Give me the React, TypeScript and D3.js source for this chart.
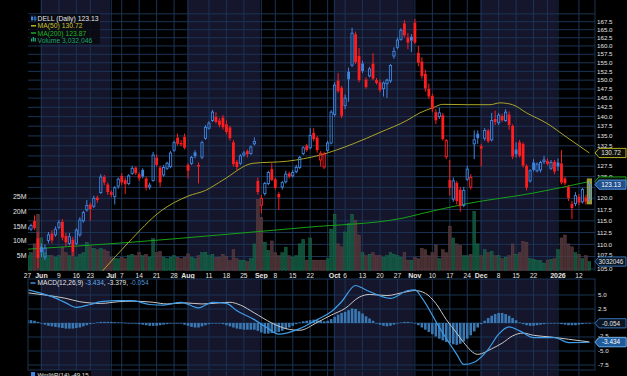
import React from 'react';
import * as d3 from 'd3';

const W = 627;
const H = 376;

// Daily candles [open, high, low, close], May 27 2025 .. Jan 15 2026
const ohlc: [number, number, number, number][] = [
  [113.2, 114.2, 112.6, 113.6], [113.2, 114.4, 112.8, 114.0], [115.0, 116.2, 113.0, 113.4], [111.3, 112.6, 105.2, 107.2],
  [109.5, 110.2, 107.4, 108.4], [107.4, 110.0, 106.8, 109.2], [110.8, 112.6, 110.2, 112.0], [112.3, 113.0, 110.2, 110.8],
  [112.0, 113.8, 111.6, 113.2], [113.6, 115.2, 113.2, 114.6], [114.8, 115.4, 110.8, 111.4], [111.8, 112.4, 109.6, 110.4],
  [110.2, 112.4, 109.8, 111.6], [111.0, 111.6, 107.6, 108.4], [110.2, 113.4, 109.8, 113.0], [112.0, 115.8, 111.6, 115.2],
  [115.0, 117.2, 114.6, 116.8], [117.4, 119.6, 117.0, 118.4], [118.6, 119.0, 115.0, 117.6], [118.2, 120.6, 117.8, 120.0],
  [120.2, 120.6, 119.0, 119.6], [121.3, 125.6, 121.0, 124.9], [125.0, 125.4, 123.0, 123.6], [123.2, 123.6, 120.8, 121.4],
  [121.4, 121.8, 120.2, 120.8], [120.4, 122.8, 118.6, 122.4], [122.8, 124.8, 122.2, 124.4], [125.2, 125.8, 123.0, 123.6],
  [124.2, 124.8, 121.0, 123.2], [123.4, 125.6, 123.0, 125.2], [125.8, 127.6, 125.4, 127.0], [127.2, 127.4, 125.4, 125.8],
  [125.6, 126.0, 124.0, 124.6], [126.6, 127.0, 124.6, 125.0], [124.6, 125.0, 121.8, 122.4], [122.6, 123.6, 122.0, 123.0],
  [124.1, 131.0, 123.8, 130.2], [129.6, 130.4, 127.4, 127.8], [127.2, 127.6, 122.6, 123.6], [125.4, 127.8, 125.0, 127.2],
  [127.0, 128.6, 126.6, 128.2], [127.4, 131.2, 127.0, 130.7], [131.4, 133.8, 131.0, 133.3], [134.6, 135.6, 132.6, 133.0],
  [133.2, 134.0, 132.4, 132.8], [134.8, 135.6, 131.6, 132.0], [127.8, 128.2, 124.6, 126.4], [128.2, 130.0, 127.8, 129.6],
  [130.9, 131.4, 129.4, 129.9], [127.8, 128.4, 123.4, 127.4], [129.7, 133.8, 129.2, 133.3], [134.4, 137.8, 134.0, 137.2],
  [137.0, 138.8, 136.6, 138.3], [139.0, 141.8, 138.6, 141.2], [140.0, 141.2, 138.2, 138.6], [139.0, 139.6, 137.2, 137.8],
  [139.8, 140.4, 136.6, 137.2], [138.0, 139.0, 135.4, 136.0], [137.2, 137.6, 133.8, 134.4], [133.4, 134.0, 127.4, 128.0],
  [128.6, 129.0, 126.6, 127.3], [128.2, 130.4, 127.8, 130.0], [130.2, 131.2, 129.8, 130.7], [131.2, 131.6, 129.6, 130.4],
  [130.6, 132.6, 130.2, 132.2], [133.0, 134.6, 132.6, 133.6], [124.0, 124.8, 120.8, 121.4], [118.4, 120.8, 116.6, 120.0],
  [121.1, 123.8, 120.6, 123.4], [123.4, 126.4, 123.0, 126.0], [126.8, 128.2, 124.0, 124.2], [124.4, 124.8, 122.0, 122.4],
  [121.0, 121.4, 117.4, 120.2], [122.6, 124.0, 122.0, 123.6], [123.8, 126.4, 123.4, 125.6], [125.8, 126.2, 124.6, 125.0],
  [125.2, 126.6, 124.8, 126.0], [126.2, 127.8, 125.8, 127.2], [127.2, 130.0, 126.8, 129.6], [130.6, 132.4, 130.2, 132.0],
  [132.6, 133.0, 131.0, 131.4], [132.0, 137.0, 131.6, 135.1], [135.8, 137.0, 133.6, 134.2], [134.6, 135.0, 130.8, 131.4],
  [129.0, 131.2, 127.4, 130.6], [127.3, 131.0, 126.8, 130.4], [131.4, 133.8, 131.0, 133.2], [133.2, 141.8, 132.8, 141.2],
  [140.6, 149.4, 140.0, 148.6], [149.9, 152.0, 146.4, 146.9], [147.9, 148.4, 139.6, 140.2], [143.0, 146.0, 142.0, 145.0],
  [152.4, 153.6, 144.0, 150.2], [154.3, 165.6, 153.8, 163.9], [163.6, 164.4, 154.6, 155.2], [157.0, 159.4, 149.4, 150.0],
  [154.8, 155.6, 152.0, 152.6], [150.2, 150.8, 147.6, 148.0], [151.2, 153.8, 150.8, 153.2], [154.8, 157.8, 150.0, 150.4],
  [150.0, 150.6, 148.8, 149.2], [149.4, 150.2, 146.6, 147.2], [147.6, 149.6, 145.4, 149.2], [149.0, 150.4, 145.0, 150.0],
  [149.8, 154.6, 149.2, 154.2], [157.0, 159.6, 156.2, 158.4], [159.6, 162.6, 159.0, 161.8], [162.0, 165.4, 161.6, 164.8],
  [167.0, 168.0, 162.6, 163.2], [162.6, 164.0, 159.0, 161.0], [162.8, 163.6, 158.2, 161.6], [167.2, 168.4, 160.6, 161.0],
  [158.0, 160.0, 154.0, 155.0], [155.4, 156.6, 150.4, 151.2], [151.8, 153.0, 146.8, 147.6], [147.6, 149.0, 144.8, 145.4],
  [145.6, 146.2, 141.2, 142.0], [141.2, 142.0, 138.0, 139.0], [140.0, 142.4, 139.4, 141.0], [140.4, 141.0, 133.8, 134.2],
  [129.8, 134.2, 129.2, 133.8], [124.2, 129.0, 120.6, 122.4], [119.8, 124.8, 119.2, 124.0], [123.6, 124.0, 118.6, 119.4],
  [122.0, 122.6, 117.0, 118.2], [118.4, 122.6, 118.0, 121.8], [124.4, 127.6, 124.0, 126.8], [122.6, 125.6, 122.0, 124.8],
  [133.0, 136.4, 129.2, 134.0], [135.6, 136.4, 133.0, 134.4], [132.4, 133.0, 127.4, 131.8], [134.4, 137.0, 133.8, 136.4],
  [136.4, 136.8, 133.2, 133.6], [134.0, 141.0, 133.6, 139.0], [139.4, 141.6, 137.8, 138.6], [138.4, 141.0, 137.8, 140.4],
  [140.2, 140.8, 138.6, 139.0], [139.0, 142.0, 138.6, 141.2], [140.6, 141.4, 136.6, 137.8], [137.6, 138.0, 129.2, 129.8],
  [131.6, 133.4, 129.6, 130.4], [133.4, 134.0, 129.6, 130.0], [133.0, 133.4, 127.2, 127.6], [127.6, 128.0, 121.8, 122.4],
  [124.0, 126.8, 123.6, 126.4], [128.4, 129.2, 126.2, 126.6], [126.4, 128.4, 126.0, 128.0], [126.6, 128.8, 126.0, 128.4],
  [128.6, 130.0, 128.0, 129.0], [128.8, 129.4, 127.6, 128.0], [127.0, 129.0, 126.6, 128.4], [128.6, 129.0, 125.6, 126.2],
  [128.4, 129.4, 126.4, 127.4], [128.2, 131.4, 123.2, 123.6], [124.6, 125.0, 123.0, 123.4], [122.6, 123.0, 119.4, 120.0],
  [118.8, 119.4, 115.4, 117.8], [118.8, 121.4, 118.2, 120.6], [120.4, 121.0, 118.4, 119.0], [119.2, 122.4, 118.8, 122.0],
  [120.2, 120.8, 118.6, 119.2], [119.8, 124.0, 119.2, 123.13],
];

// Volume in millions
const volumes: number[] = [
  5, 6, 9, 19, 11, 6, 5, 5, 4.5, 5,
  7.9, 6, 5, 6, 4.5, 5.5, 6, 9.5, 8, 7.5,
  7, 7.5, 7, 6.5, 4.5, 4, 4, 4.5, 4, 5,
  5.5, 5, 6, 5, 5.5, 4.5, 10.8, 6, 6.5, 4.5,
  4, 4.5, 5, 4.5, 4, 4.5, 5.6, 4.5, 4, 5,
  6, 6.2, 5, 5.5, 4.5, 4.5, 5.5, 4.8, 3.4, 7,
  4, 3.5, 3.5, 3, 4, 9, 24, 18, 9.6, 6.8,
  10, 6, 5, 6, 7.9, 5, 4.5, 5, 9, 10.5,
  3.5, 11, 3.5, 3.5, 3.5, 3.5, 4, 14, 19, 9,
  8, 13, 16, 19, 17, 12, 6, 5, 5.5, 6,
  5, 5, 4.5, 5, 6, 5.5, 5, 4.5, 6, 3.5,
  3.4, 4.5, 4, 7.5, 7, 5, 6, 8.6, 4, 7,
  6, 15, 11, 9, 8.5, 5, 5, 5.5, 20, 9,
  5, 7, 6, 6.5, 5, 5, 4, 4.5, 5, 9,
  5.5, 6, 9.8, 9.5, 4, 3.8, 3.5, 3.4, 2.5, 3.5,
  3.8, 4, 7, 11, 12, 9, 8, 6, 5.5, 4,
  5, 3.032046,
];

// Moving averages read at sample days [dayIndex, value]
const ma50: [number, number][] = [
  [0, 90], [10, 96], [21.6, 104.7], [28.8, 110.3], [38.3, 117.2], [46, 120.5], [51, 121.8], [56, 124.2],
  [64.6, 128.2], [74.4, 128.7], [83.8, 130.2], [93.3, 133], [101, 135.9], [108.7, 139], [112.4, 141],
  [116.2, 142.4], [119, 143.3], [126, 143.2], [132.5, 143.2], [135.4, 143.7], [139, 143.2], [143, 141],
  [148.9, 138.2], [154.6, 134.6], [161, 130.72],
];
const ma200: [number, number][] = [
  [0, 109.0], [29, 110.4], [57, 112.1], [80, 113.6], [107, 115.5], [113, 116.6], [126, 118.8], [145, 121.2], [161, 123.87],
];

// MACD(12,26,9) read at sample days
const macdLine: [number, number][] = [
  [0, 5.95], [4, 5.3], [7, 4.7], [11, 3.6], [14, 2.8], [18, 3.3], [21, 3.8], [26, 4.0], [30, 4.0], [35, 3.3],
  [39, 3.2], [44, 3.7], [49, 2.7], [53, 3.7], [57, 3.5], [60, 2.2], [65, 0.6], [68, -0.6], [72, -2.0], [78, -1.0],
  [83, 0.6], [87, 2.0], [90, 3.8], [94, 6.7], [97, 5.9], [104, 4.4], [109, 5.8], [111, 5.9], [113, 4.5], [118, -0.8],
  [123, -5.6], [125, -7.4], [128, -7.0], [132, -4.7], [135, -2.0], [138, -0.7], [141, -1.4], [145, -2.6], [151, -2.6],
  [155, -3.5], [161, -3.434],
];
const signalLine: [number, number][] = [
  [0, 5.4], [5, 5.0], [11, 4.4], [15, 3.8], [21, 3.5], [26, 3.8], [30, 3.9], [36, 3.7], [40, 3.4], [45, 3.6],
  [50, 3.4], [55, 3.6], [58, 3.7], [61, 3.2], [65, 1.8], [70, 0.0], [74, -1.0], [78, -1.3], [83, 0.1], [87, 1.4],
  [91, 2.6], [95, 4.6], [98, 5.1], [103, 4.9], [108, 5.5], [111, 5.8], [114, 5.3], [117, 3.5], [120, 0.6], [123, -1.8],
  [125, -3.5], [129, -5.6], [133, -4.6], [136, -3.6], [139, -2.3], [142, -1.8], [145, -2.2], [150, -2.5], [155, -2.9],
  [161, -3.379],
];
const histogram: number[] = [
  0.55, 0.5, 0.4, 0.2,
  -0.1, -0.3, -0.5, -0.6, -0.7, -0.8, -0.9,
  -1.0, -1.0, -1.0, -0.9, -0.8, -0.6,
  -0.4, -0.2, 0.0, 0.1, 0.2, 0.2,
  0.2, 0.2, 0.15, 0.1, 0.1, 0.05, 0.0, 0.0,
  -0.1, -0.2, -0.3, -0.4, -0.5, -0.5, -0.5, -0.4, -0.3, -0.2,
  -0.1, 0.0, 0.0, -0.1, -0.3, -0.5, -0.7, -0.8, -0.8, -0.6,
  -0.4, -0.2, 0.0, 0.0, -0.1, -0.2, -0.4,
  -0.6, -0.8, -1.0, -1.1, -1.2, -1.2, -1.2, -1.2, -1.4,
  -1.7, -1.9, -1.9, -1.8, -1.7, -1.6, -1.4,
  -1.1, -0.8, -0.5, -0.2, 0.1, 0.3, 0.4,
  0.5, 0.6, 0.5, 0.4, 0.3, 0.4,
  0.7, 1.1, 1.5, 1.8, 2.0, 2.3, 2.6, 2.5,
  2.1, 1.7, 1.2, 0.8, 0.4, 0.0,
  -0.3, -0.5, -0.6, -0.5, -0.3, -0.1,
  0.1, 0.2, 0.2, 0.1, -0.1,
  -0.4, -0.8, -1.2, -1.6, -2.0, -2.4, -2.8,
  -3.1, -3.4, -3.6, -3.8, -3.9, -3.7, -3.3,
  -2.8, -2.2, -1.5, -0.8, -0.2,
  0.4, 0.9, 1.3, 1.6, 1.8, 1.8,
  1.6, 1.3, 0.9, 0.5, 0.1,
  -0.2, -0.4, -0.5, -0.5, -0.4, -0.3, -0.2,
  -0.1, 0.0, 0.0, -0.1, -0.2, -0.3, -0.4,
  -0.4, -0.4, -0.3, -0.2, -0.1, -0.054,
];

const priceTicks = [105, 107.5, 110, 112.5, 115, 117.5, 120, 122.5, 125, 127.5, 130, 132.5, 135, 137.5, 140,
  142.5, 145, 147.5, 150, 152.5, 155, 157.5, 160, 162.5, 165, 167.5];
const priceGridExtra = [170];
const volumeTicks = [5, 10, 15, 20, 25];
const macdTicks = [5, 2.5, 0, -2.5, -5, -7.5];

const dateLabels: { i: number; t: string; b?: boolean }[] = [
  { i: 0, t: '27' }, { i: 4, t: 'Jun', b: true }, { i: 9, t: '9' }, { i: 14, t: '16' }, { i: 18, t: '23' },
  { i: 24, t: 'Jul', b: true }, { i: 27, t: '7' }, { i: 32, t: '14' }, { i: 37, t: '21' }, { i: 42, t: '28' },
  { i: 46, t: 'Aug', b: true }, { i: 52, t: '11' }, { i: 57, t: '18' }, { i: 62, t: '25' },
  { i: 67, t: 'Sep', b: true }, { i: 71, t: '8' }, { i: 76, t: '15' }, { i: 81, t: '22' },
  { i: 88, t: 'Oct', b: true }, { i: 91, t: '6' }, { i: 96, t: '13' }, { i: 101, t: '20' }, { i: 106, t: '27' },
  { i: 111, t: 'Nov', b: true }, { i: 116, t: '10' }, { i: 121, t: '17' }, { i: 126, t: '24' },
  { i: 130, t: 'Dec', b: true }, { i: 135, t: '8' }, { i: 140, t: '15' }, { i: 145, t: '22' },
  { i: 152, t: '2026', b: true }, { i: 158, t: '12' },
];
const extraGridDays = [86, 149];
const monthStarts = [4, 24, 46, 67, 88, 111, 130, 152];

const FONT = 'Liberation Sans, Arial, Helvetica, sans-serif';
const NAVY = '#15152c';
const GRID = '#1b3455';
const BLUE = '#3f86e2';
const RED = '#ff1d1d';
const TXT = '#e4e4e4';

const L = 28;
const R = 595;
const MAIN_T = 0;
const MAIN_B = 271;
const MACD_T = 279;
const MACD_B = 370;
const WR_T = 371;

function Tag({ y, label, fill, stroke, color }: { y: number; label?: string; fill: string; stroke: string; color: string }) {
  const h = 4.6;
  return (
    <g>
      <path d={`M${R},${y} L${R + 4},${y - h} L626,${y - h} L626,${y + h} L${R + 4},${y + h} Z`} fill={fill} stroke={stroke} strokeWidth={0.9} />
      {label ? (
        <text x={611} y={y + 2.2} fontSize={6.4} textAnchor="middle" fill={color} fontFamily={FONT}>{label}</text>
      ) : null}
    </g>
  );
}

export default function App() {
  const n = ohlc.length;
  const x = d3.scaleLinear().domain([0, n - 1]).range([27.5, 589.4]);
  const yP = d3.scaleLog().domain([105, 167.5]).range([269, 21.7]);
  const yV = d3.scaleLinear().domain([0, 25]).range([270.5, 196.5]);
  const yM = d3.scaleLinear().domain([-7.5, 5]).range([365, 295]);

  const bounds = [L, ...monthStarts.map((i) => x(i) - 1), R];
  const segs = bounds.slice(0, -1).map((b, k) => ({ x0: b, x1: bounds[k + 1], navy: k % 2 === 1 }));

  const gridDays = [...dateLabels.map((d) => d.i), ...extraGridDays];

  const lineP = d3.line<[number, number]>().x((d) => x(d[0])).y((d) => yP(d[1])).curve(d3.curveMonotoneX);
  const lineM = d3.line<[number, number]>().x((d) => x(d[0])).y((d) => yM(d[1])).curve(d3.curveMonotoneX);

  const up = (i: number) => (i === 0 ? true : ohlc[i][3] >= ohlc[i - 1][3]);

  const last = ohlc[n - 1];
  const lastMa50 = ma50[ma50.length - 1][1];
  const lastMa200 = ma200[ma200.length - 1][1];
  const lastVol = volumes[n - 1];
  const lastMacd = macdLine[macdLine.length - 1][1];
  const lastSig = signalLine[signalLine.length - 1][1];
  const lastHist = histogram[n - 1];

  // price labels hidden behind the value tags
  const tagYs = [yP(lastMa50), yP(last[3])];
  const visiblePriceTicks = priceTicks.filter((p) => tagYs.every((ty) => Math.abs(yP(p) - ty) > 3.5));
  const volTagY = yV(lastVol);
  const priceLabelY = (p: number) => {
    const base = yP(p) + 2.2;
    const d = volTagY - yP(p);
    return d > 0 && d < 6 ? Math.min(base, volTagY - 4.4) : base;
  };

  const shading = (t: number, b: number) =>
    segs.map((s, k) => (
      <rect key={k} x={s.x0} y={t} width={s.x1 - s.x0} height={b - t} fill={s.navy ? NAVY : '#000'} />
    ));
  const vGrid = (t: number, b: number) =>
    gridDays.map((i) => <line key={i} x1={x(i)} x2={x(i)} y1={t} y2={b} stroke={GRID} strokeWidth={1} />);

  return (
    <svg width={W} height={H} viewBox={`0 0 ${W} ${H}`} style={{ position: 'absolute', left: 0, top: 0, background: '#000' }} fontFamily={FONT}>
      <defs>
        <clipPath id="mainClip"><rect x={L} y={MAIN_T} width={R - L} height={MAIN_B - MAIN_T} /></clipPath>
        <clipPath id="macdClip"><rect x={L} y={MACD_T} width={R - L} height={MACD_B - MACD_T} /></clipPath>
        <clipPath id="wrClip"><rect x={L} y={WR_T} width={R - L} height={H - WR_T} /></clipPath>
      </defs>
      <rect x={0} y={0} width={W} height={H} fill="#000" />

      {/* ===== main panel ===== */}
      <g clipPath="url(#mainClip)">
        {shading(MAIN_T, MAIN_B)}
        {[...priceTicks, ...priceGridExtra].map((p) => (
          <line key={p} x1={L} x2={R} y1={yP(p)} y2={yP(p)} stroke={GRID} strokeWidth={1} />
        ))}
        {vGrid(MAIN_T, MAIN_B)}
        {/* volume */}
        {volumes.map((v, i) => (
          <rect key={i} x={x(i) - 1.4} y={yV(v)} width={2.8} height={yV(0) - yV(v)}
            fill={up(i) ? '#13573f' : '#4f3437'} fillOpacity={0.9}
            stroke={up(i) ? '#1c7a56' : '#6a474b'} strokeWidth={0.4} />
        ))}
        {/* moving averages */}
        <path d={lineP(ma200) || ''} fill="none" stroke="#17a117" strokeWidth={1} />
        <path d={lineP(ma50) || ''} fill="none" stroke="#a9a62a" strokeWidth={1} />
        {/* last bar highlight */}
        <rect x={x(n - 1) - 2.6} y={yP(last[1]) - 2.5} width={5.2} height={yP(last[2]) - yP(last[1]) + 5}
          fill="#b9b440" fillOpacity={0.85} />
        {/* candles */}
        {ohlc.map(([o, h, l, c], i) => {
          const col = up(i) ? BLUE : RED;
          const hollow = c > o;
          const top = yP(Math.max(o, c));
          const bot = yP(Math.min(o, c));
          const cx = x(i);
          const bh = Math.max(bot - top, 1);
          return (
            <g key={i}>
              <line x1={cx} x2={cx} y1={yP(h)} y2={top} stroke={col} strokeWidth={1} />
              <line x1={cx} x2={cx} y1={top + bh} y2={yP(l)} stroke={col} strokeWidth={1} />
              {hollow ? (
                <rect x={cx - 1.1} y={top} width={2.2} height={bh} fill="none" stroke={col} strokeWidth={0.9} />
              ) : (
                <rect x={cx - 1.4} y={top} width={2.8} height={bh} fill={col} />
              )}
            </g>
          );
        })}
      </g>
      <line x1={R} x2={R} y1={0} y2={MAIN_B} stroke={GRID} strokeWidth={1} />

      {/* legend */}
      <rect x={29} y={14} width={71} height={30} fill="#08080c" fillOpacity={0.8} />
      <g fontSize={6.8}>
        <line x1={32} x2={32} y1={15.5} y2={21.5} stroke={BLUE} strokeWidth={0.8} />
        <rect x={31} y={16.8} width={2} height={3.2} fill={BLUE} />
        <line x1={35} x2={35} y1={15.5} y2={21.5} stroke={BLUE} strokeWidth={0.8} />
        <rect x={34} y={17.2} width={2} height={2.6} fill="none" stroke={BLUE} strokeWidth={0.6} />
        <text x={37.5} y={21} fill={TXT}>DELL (Daily) 123.13</text>
        <line x1={31} x2={36} y1={25.8} y2={25.8} stroke="#c9c42a" strokeWidth={1.4} />
        <text x={37.5} y={28.3} fill="#c9c42a">MA(50) 130.72</text>
        <line x1={31} x2={36} y1={33} y2={33} stroke="#1fb51f" strokeWidth={1.4} />
        <text x={37.5} y={35.5} fill="#1fb51f">MA(200) 123.87</text>
        <rect x={31} y={38.5} width={1.3} height={3} fill="#1fa56f" />
        <rect x={32.8} y={37} width={1.3} height={4.5} fill="#1fa56f" />
        <rect x={34.6} y={38} width={1.3} height={3.5} fill="#1fa56f" />
        <text x={37.5} y={42.6} fill="#1fa56f">Volume 3,032,046</text>
      </g>

      {/* left volume axis */}
      {volumeTicks.map((v) => (
        <text key={v} x={26.5} y={yV(v) + 2.5} fontSize={7} textAnchor="end" fill={TXT}>{`${v}M`}</text>
      ))}

      {/* right price axis */}
      {visiblePriceTicks.map((p) => (
        <text key={p} x={597} y={priceLabelY(p)} fontSize={6.2} fill={TXT}>{p.toFixed(1)}</text>
      ))}
      <Tag y={volTagY} label={String(Math.round(lastVol * 1e6))} fill="#0a1626" stroke="#3d7cc4" color={TXT} />
      <Tag y={yP(lastMa50)} label={lastMa50.toFixed(2)} fill="#101008" stroke="#c9c42a" color={TXT} />
      <Tag y={yP(lastMa200)} fill="#081408" stroke="#1fb51f" color={TXT} />
      <Tag y={yP(last[3])} label={last[3].toFixed(2)} fill="#1f4f8c" stroke="#5a9be6" color="#ffffff" />

      {/* date axis */}
      {dateLabels.map((d) => (
        <text key={d.i} x={x(d.i)} y={277.5} fontSize={d.b ? 7 : 6.6} fontWeight={d.b ? 'bold' : 'normal'}
          textAnchor="middle" fill={TXT}>{d.t}</text>
      ))}

      {/* ===== MACD panel ===== */}
      <g clipPath="url(#macdClip)">
        {shading(MACD_T, MACD_B)}
        {macdTicks.map((m) => (
          <line key={m} x1={L} x2={R} y1={yM(m)} y2={yM(m)} stroke={GRID} strokeWidth={1} />
        ))}
        {vGrid(MACD_T, MACD_B)}
        {histogram.map((v, i) => (
          <rect key={i} x={x(i) - 1.3} y={Math.min(yM(0), yM(v))} width={2.6}
            height={Math.max(Math.abs(yM(v) - yM(0)), 0.6)} fill="#3a78b4" />
        ))}
        <path d={lineM(signalLine) || ''} fill="none" stroke="#c9c9c9" strokeWidth={1} />
        <path d={lineM(macdLine) || ''} fill="none" stroke="#3d9de8" strokeWidth={1.2} />
      </g>
      <rect x={L} y={MACD_T} width={R - L} height={MACD_B - MACD_T} fill="none" stroke={GRID} strokeWidth={1} />
      <line x1={30.5} x2={35.5} y1={283} y2={283} stroke="#3d9de8" strokeWidth={1.4} />
      <text x={37.5} y={285.4} fontSize={6.6} fill={TXT}>
        MACD(12,26,9) <tspan fill="#5fb0f0">{lastMacd.toFixed(3)}</tspan>
        <tspan fill={TXT}>{`, ${lastSig.toFixed(3)}, `}</tspan>
        <tspan fill="#4d8fd6">{lastHist.toFixed(3)}</tspan>
      </text>
      {macdTicks.filter((m) => m !== 0 && m !== -2.5).map((m) => (
        <text key={m} x={598} y={yM(m) + 2.2} fontSize={6.2} fill={TXT}>{m.toFixed(1)}</text>
      ))}
      <text x={598} y={yM(-2.5) + 0.6} fontSize={6.2} fill={TXT}>-2.5</text>
      <Tag y={yM(lastHist)} label={lastHist.toFixed(3)} fill="#0a1626" stroke="#3d7cc4" color={TXT} />
      <Tag y={yM(lastSig)} fill="#202020" stroke="#bbbbbb" color={TXT} />
      <Tag y={yM(lastMacd)} label={lastMacd.toFixed(3)} fill="#1f5a9a" stroke="#5aa4ea" color="#ffffff" />

      {/* ===== Williams %R panel (top edge) ===== */}
      <g clipPath="url(#wrClip)">
        {shading(WR_T, H)}
        {vGrid(WR_T, H)}
      </g>
      <rect x={29} y={371} width={62} height={5} fill="#000" />
      <rect x={31} y={372} width={4} height={4} fill="#3d86e2" />
      <text x={37.5} y={376.5} fontSize={6.2} fill={TXT}>Wm%R(14) -49.15</text>
    </svg>
  );
}
